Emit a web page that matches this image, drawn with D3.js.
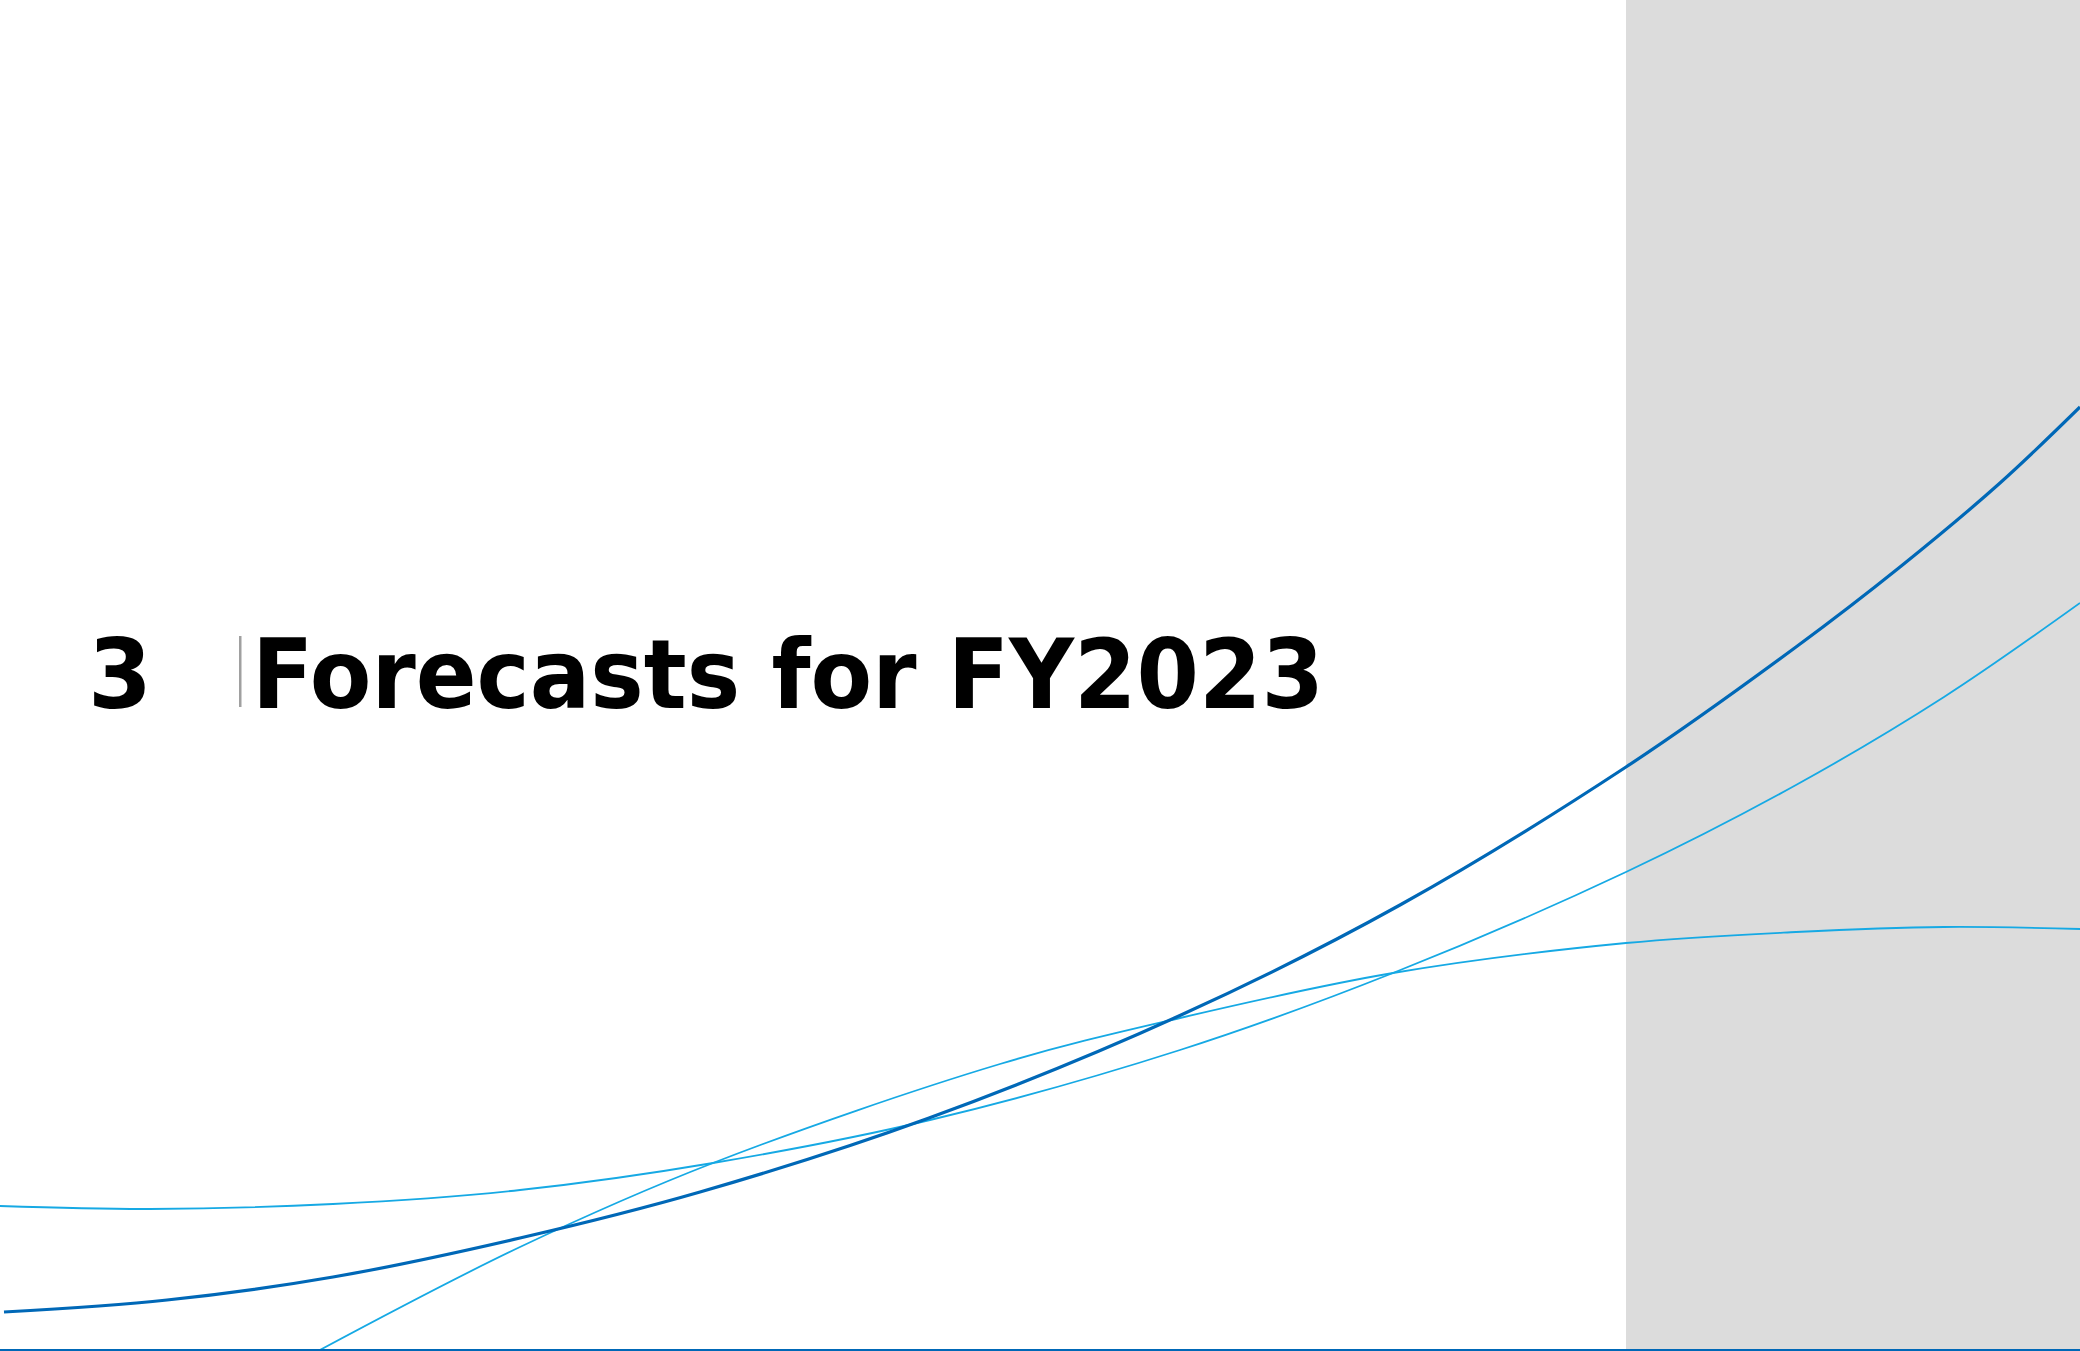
<!DOCTYPE html>
<html>
<head>
<meta charset="utf-8">
<script src="https://cdn.jsdelivr.net/npm/d3@7"></script>
<style>
  html, body { margin: 0; padding: 0; background: #ffffff; }
  svg { display: block; }
</style>
</head>
<body>
<div id="chart"></div>
<script>
// ---- data (x along the slide, y = height above the bottom edge) ----
const sectionNumber = "3";
const sectionTitle = "Forecasts for FY2023";

const curveDarkX = [4, 167, 333, 520, 700, 929, 1181, 1400, 1626, 1796, 1900, 2000, 2080];
const curveDarkY = [39, 51, 74, 113, 159, 233, 336, 446, 584, 704, 784, 868, 944];

const curveRiseX = [318, 520, 713, 1000, 1180, 1393, 1626, 1796, 1944, 2080];
const curveRiseY = [0, 104, 188, 287, 333, 378, 408, 419, 424, 422];

const curveFlatX = [0, 150, 333, 520, 713, 930, 1180, 1393, 1626, 1796, 1944, 2080];
const curveFlatY = [145, 142, 147, 161, 188, 231, 301, 378, 479, 566, 654, 748];

const panelStartX = 1626;   // start of the grey side panel (x units)

// ---- layout ----
const W = 2080, H = 1351;
const svg = d3.select("#chart").append("svg")
  .attr("width", W).attr("height", H);

const x = d3.scaleLinear().domain([0, 2080]).range([0, W]);
const y = d3.scaleLinear().domain([0, 1351]).range([H, 0]);

// grey panel
svg.append("rect")
  .attr("x", x(panelStartX)).attr("y", 0)
  .attr("width", W - x(panelStartX)).attr("height", H)
  .attr("fill", "#dcdcdc");

const line = d3.line()
  .x(d => x(d[0]))
  .y(d => y(d[1]))
  .curve(d3.curveCatmullRom.alpha(0.5));

const zip = (a, b) => a.map((v, i) => [v, b[i]]);

const curves = [
  { pts: zip(curveFlatX, curveFlatY), color: "#16a9e4", width: 1.8 },
  { pts: zip(curveRiseX, curveRiseY), color: "#16a9e4", width: 1.8 },
  { pts: zip(curveDarkX, curveDarkY), color: "#0068b7", width: 3.2 }
];

svg.append("g").selectAll("path")
  .data(curves)
  .join("path")
  .attr("d", d => line(d.pts))
  .attr("fill", "none")
  .attr("stroke", d => d.color)
  .attr("stroke-width", d => d.width);

// bottom rule
svg.append("rect")
  .attr("x", 0).attr("y", H - 2)
  .attr("width", W).attr("height", 2)
  .attr("fill", "#0068b7");

// title
const font = "'DejaVu Sans', Verdana, sans-serif";
svg.append("text")
  .attr("x", 88).attr("y", 708)
  .attr("font-family", font).attr("font-weight", "bold")
  .attr("font-size", 97)
  .attr("textLength", 64).attr("lengthAdjust", "spacingAndGlyphs")
  .attr("fill", "#000")
  .text(sectionNumber);

svg.append("rect")
  .attr("x", 239).attr("y", 636)
  .attr("width", 2.5).attr("height", 71)
  .attr("fill", "#a0a0a0");

svg.append("text")
  .attr("x", 252).attr("y", 708)
  .attr("font-family", font).attr("font-weight", "bold")
  .attr("font-size", 97)
  .attr("textLength", 1072).attr("lengthAdjust", "spacingAndGlyphs")
  .attr("fill", "#000")
  .text(sectionTitle);
</script>
</body>
</html>
